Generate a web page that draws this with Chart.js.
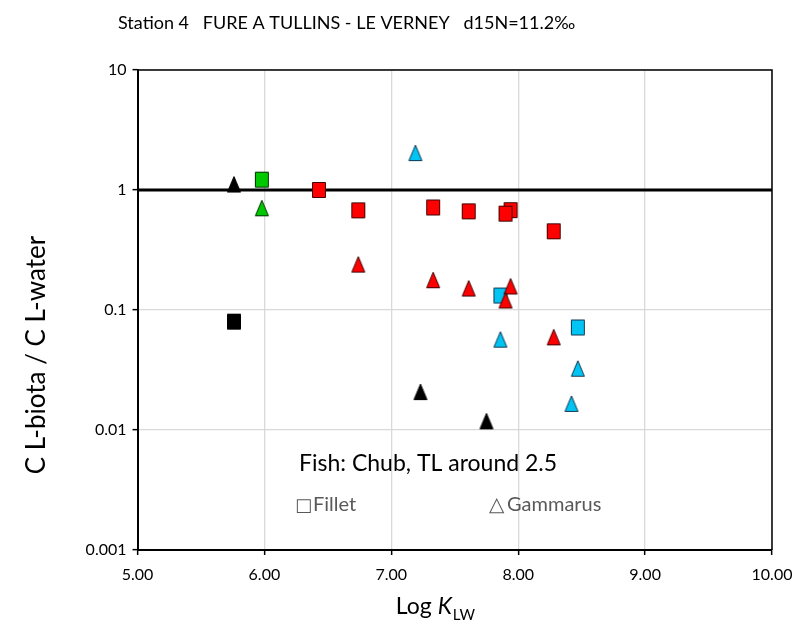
<!DOCTYPE html>
<html>
<head>
<meta charset="utf-8">
<script src="https://cdn.jsdelivr.net/npm/chart.js@4.4.1/dist/chart.umd.min.js"></script>
<style>
  html, body { margin: 0; padding: 0; background: #fff; }
  #wrap { width: 810px; height: 639px; position: relative; }
</style>
</head>
<body>
<div id="wrap"><canvas id="c" width="810" height="639"></canvas></div>
<script>
// ---------- data ----------
const titleText = "Station 4   FURE A TULLINS - LE VERNEY   d15N=11.2\u2030";
const xTicks = [5, 6, 7, 8, 9, 10];
const yTicks = [0.001, 0.01, 0.1, 1, 10];

const redFilletX   = [6.43, 6.74, 7.33, 7.61, 7.94, 7.90, 8.28];
const redFilletY   = [1.00, 0.677, 0.715, 0.664, 0.679, 0.635, 0.453];
const redGammX     = [6.74, 7.33, 7.61, 7.94, 7.90, 8.28];
const redGammY     = [0.239, 0.177, 0.151, 0.157, 0.120, 0.0592];
const greenFilletX = [5.98];
const greenFilletY = [1.22];
const greenGammX   = [5.98];
const greenGammY   = [0.704];
const blackFilletX = [5.76];
const blackFilletY = [0.080];
const blackGammX   = [5.76, 7.23, 7.75];
const blackGammY   = [1.11, 0.0207, 0.0118];
const blueFilletX  = [7.86, 8.47];
const blueFilletY  = [0.132, 0.0715];
const blueGammX    = [7.19, 7.86, 8.47, 8.42];
const blueGammY    = [2.03, 0.0566, 0.0324, 0.0165];
const refLineX     = [5, 10];
const refLineY     = [1, 1];

// ---------- helpers ----------
const FONT = "Lato, 'Open Sans', sans-serif";
const SYM = "'DejaVu Sans', sans-serif";
function pts(xs, ys) { return xs.map((x, i) => ({ x: x, y: ys[i] })); }

function marker(shape, fill, stroke) {
  const w = 14, h = 16;
  const cv = document.createElement('canvas');
  cv.width = w + 2; cv.height = h + 2;
  const g = cv.getContext('2d');
  g.fillStyle = fill; g.strokeStyle = stroke; g.lineWidth = 1;
  g.beginPath();
  if (shape === 'sq') {
    g.rect(1.5, 1.5, w - 1, h - 1);
  } else {
    g.moveTo(1 + w / 2, 1);
    g.lineTo(w + 0.5, h + 0.5);
    g.lineTo(1.5, h + 0.5);
    g.closePath();
  }
  g.fill(); g.stroke();
  return cv;
}

const RED = '#ff0000', GREEN = '#00c800', BLACK = '#000000', BLUE = '#00c4f4';

function ds(label, xs, ys, shape, fill, stroke) {
  return {
    type: 'scatter', label: label, data: pts(xs, ys),
    pointStyle: marker(shape, fill, stroke), pointRadius: 8, pointHoverRadius: 8,
    showLine: false
  };
}

const datasets = [
  ds('Fillet red', redFilletX, redFilletY, 'sq', RED, '#400000'),
  ds('Gammarus red', redGammX, redGammY, 'tri', RED, '#400000'),
  ds('Fillet green', greenFilletX, greenFilletY, 'sq', GREEN, '#003000'),
  ds('Gammarus green', greenGammX, greenGammY, 'tri', GREEN, '#003000'),
  ds('Fillet black', blackFilletX, blackFilletY, 'sq', BLACK, '#000000'),
  ds('Gammarus black', blackGammX, blackGammY, 'tri', BLACK, '#000000'),
  ds('Fillet blue', blueFilletX, blueFilletY, 'sq', BLUE, '#103850'),
  ds('Gammarus blue', blueGammX, blueGammY, 'tri', BLUE, '#103850'),
  {
    type: 'line', label: 'C = 1', data: pts(refLineX, refLineY),
    borderColor: '#000', borderWidth: 3, pointRadius: 0, fill: false
  }
];

// ---------- text + frame plugin ----------
const decor = {
  id: 'decor',
  afterDraw(chart) {
    const ctx = chart.ctx, a = chart.chartArea;
    ctx.save();
    // plot frame top & right
    ctx.strokeStyle = '#000'; ctx.lineWidth = 1.5;
    ctx.beginPath();
    ctx.moveTo(a.left, a.top); ctx.lineTo(a.right, a.top); ctx.lineTo(a.right, a.bottom);
    ctx.stroke();

    ctx.fillStyle = '#000';
    ctx.textBaseline = 'alphabetic';
    ctx.textAlign = 'left';
    // title
    ctx.font = "18px " + FONT;
    ctx.fillText(titleText, 118, 29);

    // annotation inside plot
    ctx.font = "23px " + FONT;
    ctx.fillText("Fish: Chub, TL around 2.5", 299, 471);

    ctx.fillStyle = '#595959';
    ctx.font = "18px " + SYM;
    ctx.fillText("\u25a1", 295, 511);
    ctx.font = "20px " + SYM;
    ctx.fillText("\u25b3", 489, 511);
    ctx.font = "20px " + FONT;
    ctx.fillText("Fillet", 313, 511);
    ctx.fillText("Gammarus", 507, 511);

    // x-axis title: Log K_LW
    ctx.fillStyle = '#000';
    const t1 = "Log ";
    ctx.font = "23px " + FONT;
    const w1 = ctx.measureText(t1).width;
    ctx.font = "italic 23px " + FONT;
    const w2 = ctx.measureText("K").width;
    ctx.font = "15px " + FONT;
    const w3 = ctx.measureText("LW").width;
    let x0 = 435 - (w1 + w2 + w3) / 2;
    const yb = 614;
    ctx.font = "23px " + FONT; ctx.fillText(t1, x0, yb);
    ctx.font = "italic 23px " + FONT; ctx.fillText("K", x0 + w1, yb);
    ctx.font = "15px " + FONT; ctx.fillText("LW", x0 + w1 + w2 + 1, yb + 6);

    // y-axis title
    ctx.translate(45, 355);
    ctx.rotate(-Math.PI / 2);
    ctx.textAlign = 'center';
    ctx.font = "26px " + FONT;
    ctx.fillText("C L-biota / C L-water", 0, 0);
    ctx.restore();
  }
};

new Chart(document.getElementById('c'), {
  data: { datasets: datasets },
  options: {
    responsive: false,
    animation: false,
    layout: { padding: { top: 70, right: 38, bottom: 0, left: 0 } },
    plugins: { legend: { display: false }, tooltip: { enabled: false } },
    scales: {
      x: {
        type: 'linear', min: 5, max: 10,
        afterBuildTicks(s) { s.ticks = xTicks.map(v => ({ value: v })); },
        afterFit(s) { s.height = 89; },
        ticks: { callback: v => Number(v).toFixed(2), color: '#000', font: { family: FONT, size: 16 }, padding: 10, maxRotation: 0 },
        grid: { color: '#d9d9d9', lineWidth: 1.3, tickColor: '#000', tickLength: 5, tickWidth: 1.5 },
        border: { display: true, color: '#000', width: 2 }
      },
      y: {
        type: 'logarithmic', min: 0.001, max: 10,
        afterBuildTicks(s) { s.ticks = yTicks.map(v => ({ value: v })); },
        afterFit(s) { s.width = 137.5; },
        ticks: { callback: v => String(v), color: '#000', font: { family: FONT, size: 16 }, padding: 6 },
        grid: { color: '#d9d9d9', lineWidth: 1.3, tickColor: '#000', tickLength: 5, tickWidth: 1.5 },
        border: { display: true, color: '#000', width: 2 }
      }
    }
  },
  plugins: [decor]
});
</script>
</body>
</html>
